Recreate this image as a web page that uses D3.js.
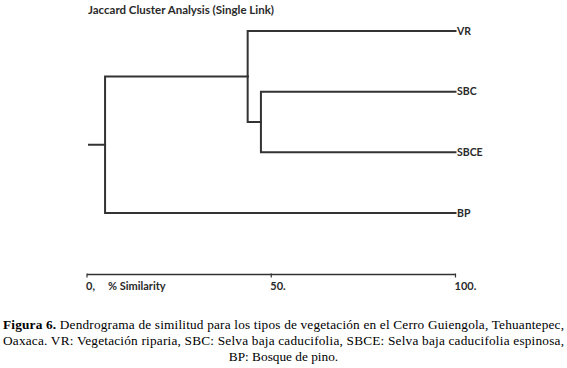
<!DOCTYPE html>
<html>
<head>
<meta charset="utf-8">
<script src="https://cdn.jsdelivr.net/npm/d3@7"></script>
<style>
  body { margin: 0; background: #fff; }
  svg { display: block; }
</style>
</head>
<body>
<div id="chart-area"></div>
<script>
// data
var leaves = ["VR", "SBC", "SBCE", "BP"];
// each merge joins two items: a leaf name or the index of an earlier merge
var merges = [["SBC", "SBCE"], ["VR", 0], [1, "BP"]];
var mergeSimilarity = [47.2, 43.6, 4.9];
var tickValues = [0, 50, 100];
var tickLabels = ["0,", "50.", "100."];

var outerWidth = 567;
var outerHeight = 368;
var ink = "#333";
var sans = "Lato, sans-serif";

var svg = d3.select("#chart-area")
  .append("svg")
  .attr("width", outerWidth)
  .attr("height", outerHeight);

// X scale (% similarity)
var x = d3.scaleLinear()
  .domain([0, 100])
  .range([87, 455.5]);

// leaf rows
var y = d3.scalePoint()
  .domain(leaves)
  .range([31, 213]);

// build tree from merges
function makeNode(ref) {
  if (typeof ref === "string") return { name: ref, sim: 100 };
  return {
    sim: mergeSimilarity[ref],
    children: merges[ref].map(makeNode)
  };
}
var root = d3.hierarchy(makeNode(merges.length - 1));

root.eachAfter(function(d) {
  d.px = x(d.data.sim);
  if (d.children) {
    d.py = d3.mean(d.children, function(c) { return c.py; });
  } else {
    d.py = y(d.data.name);
  }
});

var g = svg.append("g");

// root stub
g.append("line")
  .attr("x1", x(0) + 1).attr("x2", root.px)
  .attr("y1", root.py).attr("y2", root.py)
  .attr("stroke", ink).attr("stroke-width", 2);

// elbow links
g.selectAll("path.link")
  .data(root.links())
  .enter()
  .append("path")
  .attr("class", "link")
  .attr("fill", "none")
  .attr("stroke", ink)
  .attr("stroke-width", 2)
  .attr("stroke-linecap", "square")
  .attr("d", function(l) {
    return "M" + l.source.px + "," + l.source.py +
      "V" + l.target.py + "H" + l.target.px;
  });

// leaf labels
g.selectAll("text.leaf")
  .data(root.leaves())
  .enter()
  .append("text")
  .attr("class", "leaf")
  .attr("x", function(d) { return d.px + 1.5; })
  .attr("y", function(d) { return d.py + 3.8; })
  .attr("font-family", sans)
  .attr("font-weight", "bold")
  .attr("font-size", "10.5px")
  .attr("fill", "#2a2a2a")
  .text(function(d) { return d.data.name; });

// title
svg.append("text")
  .attr("x", 88)
  .attr("y", 14)
  .attr("font-family", sans)
  .attr("font-weight", "bold")
  .attr("font-size", "11.5px")
  .attr("fill", "#2a2a2a")
  .text("Jaccard Cluster Analysis (Single Link)");

// bottom axis
var axisY = 274.5;
var axis = svg.append("g");
axis.append("line")
  .attr("x1", x(0)).attr("x2", x(100))
  .attr("y1", axisY).attr("y2", axisY)
  .attr("stroke", ink).attr("stroke-width", 1.5);

axis.selectAll("line.tick")
  .data(tickValues)
  .enter()
  .append("line")
  .attr("class", "tick")
  .attr("x1", function(d) { return x(d); })
  .attr("x2", function(d) { return x(d); })
  .attr("y1", axisY - 1)
  .attr("y2", axisY + 3)
  .attr("stroke", ink)
  .attr("stroke-width", 1.2);

axis.selectAll("text.tl")
  .data(tickValues)
  .enter()
  .append("text")
  .attr("class", "tl")
  .attr("x", function(d) { return x(d) - 1; })
  .attr("y", 289.5)
  .attr("font-family", sans)
  .attr("font-weight", "bold")
  .attr("font-size", "11px")
  .attr("fill", "#2a2a2a")
  .text(function(d, i) { return tickLabels[i]; });

axis.append("text")
  .attr("x", 108)
  .attr("y", 289.5)
  .attr("font-family", sans)
  .attr("font-weight", "bold")
  .attr("font-size", "11px")
  .attr("fill", "#2a2a2a")
  .text("% Similarity");

// caption
var cap = svg.append("g")
  .attr("font-family", "Liberation Serif, Times New Roman, serif")
  .attr("font-size", "13.3px")
  .attr("fill", "#000");

var l1 = cap.append("text")
  .attr("x", 3).attr("y", 329)
  .attr("textLength", 561)
  .attr("lengthAdjust", "spacing");
l1.append("tspan").attr("font-weight", "bold").text("Figura 6.");
l1.append("tspan").text(" Dendrograma de similitud para los tipos de vegetación en el Cerro Guiengola, Tehuantepec,");

cap.append("text")
  .attr("x", 3).attr("y", 345)
  .attr("textLength", 561)
  .attr("lengthAdjust", "spacing")
  .text("Oaxaca. VR: Vegetación riparia, SBC: Selva baja caducifolia, SBCE: Selva baja caducifolia espinosa,");

cap.append("text")
  .attr("x", outerWidth / 2).attr("y", 361)
  .attr("text-anchor", "middle")
  .text("BP: Bosque de pino.");
</script>
</body>
</html>
